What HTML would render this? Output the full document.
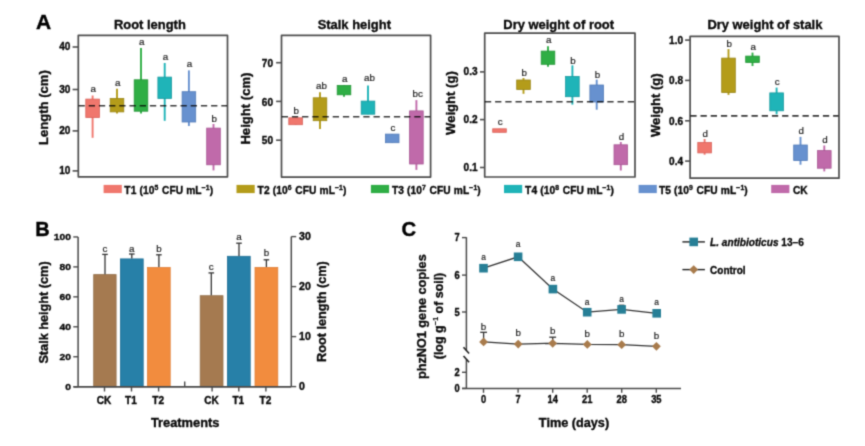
<!DOCTYPE html>
<html><head><meta charset="utf-8"><style>
html,body{margin:0;padding:0;background:#fff;}
svg{display:block;font-family:"Liberation Sans", sans-serif;}
</style></head><body>
<svg width="865" height="446" viewBox="0 0 865 446">
<defs><filter id="bl" x="0" y="0" width="865" height="446" filterUnits="userSpaceOnUse" color-interpolation-filters="sRGB"><feConvolveMatrix order="3" kernelMatrix="1 4 1 4 16 4 1 4 1" divisor="36" edgeMode="none" preserveAlpha="false"/></filter></defs>
<rect x="0" y="0" width="865" height="446" fill="#fff"/>
<g filter="url(#bl)">
<text x="36.1" y="29.3" font-size="21" font-weight="bold" fill="#000" stroke="#000" stroke-width="0.4">A</text>
<rect x="78.3" y="35.3" width="149.2" height="141.5" fill="none" stroke="#4e4e4e" stroke-width="1.7" stroke-linejoin="round"/>
<text x="149.9" y="29.0" font-size="12.95" font-weight="bold" text-anchor="middle" fill="#0a0a0a"  stroke="#0a0a0a" stroke-width="0.35">Root length</text>
<text transform="translate(47.5,107.6) rotate(-90)" font-size="13.1" font-weight="bold" text-anchor="middle" fill="#0a0a0a" stroke="#0a0a0a" stroke-width="0.35">Length (cm)</text>
<line x1="72.6" y1="47.0" x2="78.3" y2="47.0" stroke="#4e4e4e" stroke-width="1.6" />
<text transform="translate(70.4,50.3) scale(1.03,1.06)" font-size="9.8" font-weight="bold" text-anchor="end" fill="#0a0a0a"  stroke="#0a0a0a" stroke-width="0.35">40</text>
<line x1="72.6" y1="89.5" x2="78.3" y2="89.5" stroke="#4e4e4e" stroke-width="1.6" />
<text transform="translate(70.4,92.8) scale(1.03,1.06)" font-size="9.8" font-weight="bold" text-anchor="end" fill="#0a0a0a"  stroke="#0a0a0a" stroke-width="0.35">30</text>
<line x1="72.6" y1="130.9" x2="78.3" y2="130.9" stroke="#4e4e4e" stroke-width="1.6" />
<text transform="translate(70.4,134.20000000000002) scale(1.03,1.06)" font-size="9.8" font-weight="bold" text-anchor="end" fill="#0a0a0a"  stroke="#0a0a0a" stroke-width="0.35">20</text>
<line x1="72.6" y1="170.9" x2="78.3" y2="170.9" stroke="#4e4e4e" stroke-width="1.6" />
<text transform="translate(70.4,174.20000000000002) scale(1.03,1.06)" font-size="9.8" font-weight="bold" text-anchor="end" fill="#0a0a0a"  stroke="#0a0a0a" stroke-width="0.35">10</text>
<line x1="92.6" y1="95.5" x2="92.6" y2="137.8" stroke="#f0776d" stroke-width="1.9" />
<rect x="85.8" y="99.1" width="13.6" height="18.400000000000006" fill="#f0776d" stroke="#d9625a" stroke-width="0.8" />
<text x="93.3" y="92.19999999999999" font-size="9.8" font-weight="normal" text-anchor="middle" fill="#1e1e1e"  stroke="#1e1e1e" stroke-width="0.2">a</text>
<line x1="117.0" y1="88.8" x2="117.0" y2="113.4" stroke="#b49c1a" stroke-width="1.9" />
<rect x="110.2" y="98.4" width="13.6" height="13.5" fill="#b49c1a" stroke="#9a8514" stroke-width="0.8" />
<text x="117.7" y="86.1" font-size="9.8" font-weight="normal" text-anchor="middle" fill="#1e1e1e"  stroke="#1e1e1e" stroke-width="0.2">a</text>
<line x1="141.0" y1="47.9" x2="141.0" y2="113.4" stroke="#2fae45" stroke-width="1.9" />
<rect x="134.2" y="79.8" width="13.6" height="31.400000000000006" fill="#2fae45" stroke="#239436" stroke-width="0.8" />
<text x="141.7" y="44.6" font-size="9.8" font-weight="normal" text-anchor="middle" fill="#1e1e1e"  stroke="#1e1e1e" stroke-width="0.2">a</text>
<line x1="164.7" y1="63.0" x2="164.7" y2="120.8" stroke="#1fb4b8" stroke-width="1.9" />
<rect x="157.89999999999998" y="77.1" width="13.6" height="21.30000000000001" fill="#1fb4b8" stroke="#189a9e" stroke-width="0.8" />
<text x="165.39999999999998" y="59.800000000000004" font-size="9.8" font-weight="normal" text-anchor="middle" fill="#1e1e1e"  stroke="#1e1e1e" stroke-width="0.2">a</text>
<line x1="188.9" y1="70.4" x2="188.9" y2="126.0" stroke="#6791cf" stroke-width="1.9" />
<rect x="182.1" y="91.7" width="13.6" height="30.299999999999997" fill="#6791cf" stroke="#537cb8" stroke-width="0.8" />
<text x="189.6" y="67.19999999999999" font-size="9.8" font-weight="normal" text-anchor="middle" fill="#1e1e1e"  stroke="#1e1e1e" stroke-width="0.2">a</text>
<line x1="213.5" y1="124.0" x2="213.5" y2="170.4" stroke="#c06aaa" stroke-width="1.9" />
<rect x="206.7" y="128.1" width="13.6" height="36.70000000000002" fill="#c06aaa" stroke="#a85894" stroke-width="0.8" />
<text x="214.2" y="122.1" font-size="9.8" font-weight="normal" text-anchor="middle" fill="#1e1e1e"  stroke="#1e1e1e" stroke-width="0.2">b</text>
<line x1="78.3" y1="105.8" x2="227.0" y2="105.8" stroke="#3a3a3a" stroke-width="1.6" stroke-dasharray="6.3 3.9" stroke-dashoffset="-0.2" style="mix-blend-mode:multiply"/>
<rect x="281.5" y="35.3" width="149.10000000000002" height="141.8" fill="none" stroke="#4e4e4e" stroke-width="1.7" stroke-linejoin="round"/>
<text x="354.3" y="29.0" font-size="12.95" font-weight="bold" text-anchor="middle" fill="#0a0a0a"  stroke="#0a0a0a" stroke-width="0.35">Stalk height</text>
<text transform="translate(249.7,108.6) rotate(-90)" font-size="13.1" font-weight="bold" text-anchor="middle" fill="#0a0a0a" stroke="#0a0a0a" stroke-width="0.35">Height (cm)</text>
<line x1="276.1" y1="62.7" x2="281.5" y2="62.7" stroke="#4e4e4e" stroke-width="1.6" />
<text transform="translate(273.09999999999997,66.8) scale(1.03,1.06)" font-size="9.8" font-weight="bold" text-anchor="end" fill="#0a0a0a"  stroke="#0a0a0a" stroke-width="0.35">70</text>
<line x1="276.1" y1="101.4" x2="281.5" y2="101.4" stroke="#4e4e4e" stroke-width="1.6" />
<text transform="translate(273.09999999999997,105.5) scale(1.03,1.06)" font-size="9.8" font-weight="bold" text-anchor="end" fill="#0a0a0a"  stroke="#0a0a0a" stroke-width="0.35">60</text>
<line x1="276.1" y1="140.2" x2="281.5" y2="140.2" stroke="#4e4e4e" stroke-width="1.6" />
<text transform="translate(273.09999999999997,144.3) scale(1.03,1.06)" font-size="9.8" font-weight="bold" text-anchor="end" fill="#0a0a0a"  stroke="#0a0a0a" stroke-width="0.35">50</text>
<line x1="295.6" y1="117.3" x2="295.6" y2="124.9" stroke="#f0776d" stroke-width="1.9" />
<rect x="288.8" y="117.8" width="13.6" height="6.900000000000006" fill="#f0776d" stroke="#d9625a" stroke-width="0.8" />
<text x="296.3" y="113.6" font-size="9.8" font-weight="normal" text-anchor="middle" fill="#1e1e1e"  stroke="#1e1e1e" stroke-width="0.2">b</text>
<line x1="320.0" y1="92.3" x2="320.0" y2="129.0" stroke="#b49c1a" stroke-width="1.9" />
<rect x="313.2" y="97.8" width="13.6" height="22.900000000000006" fill="#b49c1a" stroke="#9a8514" stroke-width="0.8" />
<text x="321.4" y="88.6" font-size="9.8" font-weight="normal" text-anchor="middle" fill="#1e1e1e"  stroke="#1e1e1e" stroke-width="0.2">ab</text>
<line x1="344.0" y1="85.4" x2="344.0" y2="96.8" stroke="#2fae45" stroke-width="1.9" />
<rect x="337.2" y="85.4" width="13.6" height="9.399999999999991" fill="#2fae45" stroke="#239436" stroke-width="0.8" />
<text x="344.7" y="82.0" font-size="9.8" font-weight="normal" text-anchor="middle" fill="#1e1e1e"  stroke="#1e1e1e" stroke-width="0.2">a</text>
<line x1="368.0" y1="85.4" x2="368.0" y2="114.2" stroke="#1fb4b8" stroke-width="1.9" />
<rect x="361.2" y="101.1" width="13.6" height="13.100000000000009" fill="#1fb4b8" stroke="#189a9e" stroke-width="0.8" />
<text x="369.4" y="81.39999999999999" font-size="9.8" font-weight="normal" text-anchor="middle" fill="#1e1e1e"  stroke="#1e1e1e" stroke-width="0.2">ab</text>
<line x1="392.2" y1="134.1" x2="392.2" y2="142.7" stroke="#6791cf" stroke-width="1.9" />
<rect x="385.4" y="134.1" width="13.6" height="8.599999999999994" fill="#6791cf" stroke="#537cb8" stroke-width="0.8" />
<text x="392.9" y="130.9" font-size="9.8" font-weight="normal" text-anchor="middle" fill="#1e1e1e"  stroke="#1e1e1e" stroke-width="0.2">c</text>
<line x1="416.4" y1="100.1" x2="416.4" y2="169.9" stroke="#c06aaa" stroke-width="1.9" />
<rect x="409.59999999999997" y="110.9" width="13.6" height="53.099999999999994" fill="#c06aaa" stroke="#a85894" stroke-width="0.8" />
<text x="417.79999999999995" y="97.19999999999999" font-size="9.8" font-weight="normal" text-anchor="middle" fill="#1e1e1e"  stroke="#1e1e1e" stroke-width="0.2">bc</text>
<line x1="281.5" y1="116.8" x2="430.1" y2="116.8" stroke="#3a3a3a" stroke-width="1.6" stroke-dasharray="6.3 3.9" stroke-dashoffset="-0.2" style="mix-blend-mode:multiply"/>
<rect x="484.7" y="33.1" width="150.3" height="143.9" fill="none" stroke="#4e4e4e" stroke-width="1.7" stroke-linejoin="round"/>
<text x="558.7" y="29.0" font-size="12.95" font-weight="bold" text-anchor="middle" fill="#0a0a0a"  stroke="#0a0a0a" stroke-width="0.35">Dry weight of root</text>
<text transform="translate(454.6,103.1) rotate(-90)" font-size="13.1" font-weight="bold" text-anchor="middle" fill="#0a0a0a" stroke="#0a0a0a" stroke-width="0.35">Weight (g)</text>
<line x1="480.0" y1="71.9" x2="484.7" y2="71.9" stroke="#4e4e4e" stroke-width="1.6" />
<text transform="translate(477.59999999999997,75.2) scale(1.03,1.06)" font-size="9.8" font-weight="bold" text-anchor="end" fill="#0a0a0a"  stroke="#0a0a0a" stroke-width="0.35">0.3</text>
<line x1="480.0" y1="119.6" x2="484.7" y2="119.6" stroke="#4e4e4e" stroke-width="1.6" />
<text transform="translate(477.59999999999997,122.89999999999999) scale(1.03,1.06)" font-size="9.8" font-weight="bold" text-anchor="end" fill="#0a0a0a"  stroke="#0a0a0a" stroke-width="0.35">0.2</text>
<line x1="480.0" y1="167.5" x2="484.7" y2="167.5" stroke="#4e4e4e" stroke-width="1.6" />
<text transform="translate(477.59999999999997,170.8) scale(1.03,1.06)" font-size="9.8" font-weight="bold" text-anchor="end" fill="#0a0a0a"  stroke="#0a0a0a" stroke-width="0.35">0.1</text>
<line x1="499.5" y1="128.8" x2="499.5" y2="132.3" stroke="#f0776d" stroke-width="1.9" />
<rect x="492.7" y="128.8" width="13.6" height="3.5" fill="#f0776d" stroke="#d9625a" stroke-width="0.8" />
<text x="500.2" y="124.6" font-size="9.8" font-weight="normal" text-anchor="middle" fill="#1e1e1e"  stroke="#1e1e1e" stroke-width="0.2">c</text>
<line x1="523.5" y1="78.0" x2="523.5" y2="93.8" stroke="#b49c1a" stroke-width="1.9" />
<rect x="516.7" y="80.0" width="13.6" height="9.5" fill="#b49c1a" stroke="#9a8514" stroke-width="0.8" />
<text x="524.2" y="76.0" font-size="9.8" font-weight="normal" text-anchor="middle" fill="#1e1e1e"  stroke="#1e1e1e" stroke-width="0.2">b</text>
<line x1="548.0" y1="46.2" x2="548.0" y2="66.7" stroke="#2fae45" stroke-width="1.9" />
<rect x="541.2" y="51.1" width="13.6" height="13.199999999999996" fill="#2fae45" stroke="#239436" stroke-width="0.8" />
<text x="548.7" y="43.2" font-size="9.8" font-weight="normal" text-anchor="middle" fill="#1e1e1e"  stroke="#1e1e1e" stroke-width="0.2">a</text>
<line x1="572.4" y1="65.3" x2="572.4" y2="104.6" stroke="#1fb4b8" stroke-width="1.9" />
<rect x="565.6" y="76.5" width="13.6" height="20.200000000000003" fill="#1fb4b8" stroke="#189a9e" stroke-width="0.8" />
<text x="573.1" y="63.6" font-size="9.8" font-weight="normal" text-anchor="middle" fill="#1e1e1e"  stroke="#1e1e1e" stroke-width="0.2">b</text>
<line x1="596.7" y1="79.6" x2="596.7" y2="109.7" stroke="#6791cf" stroke-width="1.9" />
<rect x="589.9000000000001" y="85.0" width="13.6" height="17.0" fill="#6791cf" stroke="#537cb8" stroke-width="0.8" />
<text x="597.4000000000001" y="77.5" font-size="9.8" font-weight="normal" text-anchor="middle" fill="#1e1e1e"  stroke="#1e1e1e" stroke-width="0.2">b</text>
<line x1="620.8" y1="142.0" x2="620.8" y2="170.5" stroke="#c06aaa" stroke-width="1.9" />
<rect x="614.0" y="144.8" width="13.6" height="19.899999999999977" fill="#c06aaa" stroke="#a85894" stroke-width="0.8" />
<text x="621.5" y="140.0" font-size="9.8" font-weight="normal" text-anchor="middle" fill="#1e1e1e"  stroke="#1e1e1e" stroke-width="0.2">d</text>
<line x1="484.7" y1="101.7" x2="634.5" y2="101.7" stroke="#3a3a3a" stroke-width="1.6" stroke-dasharray="6.3 3.9" stroke-dashoffset="-0.2" style="mix-blend-mode:multiply"/>
<rect x="690.1" y="36.4" width="148.89999999999998" height="141.79999999999998" fill="none" stroke="#4e4e4e" stroke-width="1.7" stroke-linejoin="round"/>
<text x="764.9" y="29.0" font-size="12.95" font-weight="bold" text-anchor="middle" fill="#0a0a0a"  stroke="#0a0a0a" stroke-width="0.35">Dry weight of stalk</text>
<text transform="translate(659.7,105.2) rotate(-90)" font-size="13.1" font-weight="bold" text-anchor="middle" fill="#0a0a0a" stroke="#0a0a0a" stroke-width="0.35">Weight (g)</text>
<line x1="685.1" y1="40.1" x2="690.1" y2="40.1" stroke="#4e4e4e" stroke-width="1.6" />
<text transform="translate(683.1,44.1) scale(1.03,1.06)" font-size="9.8" font-weight="bold" text-anchor="end" fill="#0a0a0a"  stroke="#0a0a0a" stroke-width="0.35">1.0</text>
<line x1="685.1" y1="80.4" x2="690.1" y2="80.4" stroke="#4e4e4e" stroke-width="1.6" />
<text transform="translate(683.1,84.4) scale(1.03,1.06)" font-size="9.8" font-weight="bold" text-anchor="end" fill="#0a0a0a"  stroke="#0a0a0a" stroke-width="0.35">0.8</text>
<line x1="685.1" y1="120.8" x2="690.1" y2="120.8" stroke="#4e4e4e" stroke-width="1.6" />
<text transform="translate(683.1,124.8) scale(1.03,1.06)" font-size="9.8" font-weight="bold" text-anchor="end" fill="#0a0a0a"  stroke="#0a0a0a" stroke-width="0.35">0.6</text>
<line x1="685.1" y1="161.1" x2="690.1" y2="161.1" stroke="#4e4e4e" stroke-width="1.6" />
<text transform="translate(683.1,165.1) scale(1.03,1.06)" font-size="9.8" font-weight="bold" text-anchor="end" fill="#0a0a0a"  stroke="#0a0a0a" stroke-width="0.35">0.4</text>
<line x1="704.6" y1="139.0" x2="704.6" y2="154.7" stroke="#f0776d" stroke-width="1.9" />
<rect x="697.8000000000001" y="142.5" width="13.6" height="10.400000000000006" fill="#f0776d" stroke="#d9625a" stroke-width="0.8" />
<text x="705.3000000000001" y="137.0" font-size="9.8" font-weight="normal" text-anchor="middle" fill="#1e1e1e"  stroke="#1e1e1e" stroke-width="0.2">d</text>
<line x1="728.5" y1="49.1" x2="728.5" y2="94.9" stroke="#b49c1a" stroke-width="1.9" />
<rect x="721.7" y="58.1" width="13.6" height="34.4" fill="#b49c1a" stroke="#9a8514" stroke-width="0.8" />
<text x="729.2" y="47.2" font-size="9.8" font-weight="normal" text-anchor="middle" fill="#1e1e1e"  stroke="#1e1e1e" stroke-width="0.2">b</text>
<line x1="752.5" y1="52.6" x2="752.5" y2="66.0" stroke="#2fae45" stroke-width="1.9" />
<rect x="745.7" y="56.1" width="13.6" height="6.299999999999997" fill="#2fae45" stroke="#239436" stroke-width="0.8" />
<text x="753.2" y="50.2" font-size="9.8" font-weight="normal" text-anchor="middle" fill="#1e1e1e"  stroke="#1e1e1e" stroke-width="0.2">a</text>
<line x1="776.6" y1="87.6" x2="776.6" y2="114.3" stroke="#1fb4b8" stroke-width="1.9" />
<rect x="769.8000000000001" y="92.9" width="13.6" height="17.89999999999999" fill="#1fb4b8" stroke="#189a9e" stroke-width="0.8" />
<text x="777.3000000000001" y="85.0" font-size="9.8" font-weight="normal" text-anchor="middle" fill="#1e1e1e"  stroke="#1e1e1e" stroke-width="0.2">c</text>
<line x1="800.5" y1="136.9" x2="800.5" y2="164.7" stroke="#6791cf" stroke-width="1.9" />
<rect x="793.7" y="145.0" width="13.6" height="15.5" fill="#6791cf" stroke="#537cb8" stroke-width="0.8" />
<text x="801.2" y="134.29999999999998" font-size="9.8" font-weight="normal" text-anchor="middle" fill="#1e1e1e"  stroke="#1e1e1e" stroke-width="0.2">d</text>
<line x1="824.3" y1="145.5" x2="824.3" y2="171.4" stroke="#c06aaa" stroke-width="1.9" />
<rect x="817.5" y="150.6" width="13.6" height="17.599999999999994" fill="#c06aaa" stroke="#a85894" stroke-width="0.8" />
<text x="825.0" y="142.79999999999998" font-size="9.8" font-weight="normal" text-anchor="middle" fill="#1e1e1e"  stroke="#1e1e1e" stroke-width="0.2">d</text>
<line x1="690.1" y1="115.9" x2="838.5" y2="115.9" stroke="#3a3a3a" stroke-width="1.6" stroke-dasharray="6.3 3.9" stroke-dashoffset="-0.2" style="mix-blend-mode:multiply"/>
<rect x="103.6" y="184.9" width="18.2" height="8.2" fill="#f0776d" stroke="none" stroke-width="0" />
<text x="124.3" y="193.5" font-size="10.2" letter-spacing="0.12" font-weight="bold" fill="#0a0a0a" stroke="#0a0a0a" stroke-width="0.35">T1 (10<tspan font-size="6.8" dy="-4.0">5</tspan><tspan dy="4.0" dx="0.6"> CFU mL</tspan><tspan font-size="6.8" dy="-4.0">&#8722;1</tspan><tspan dy="4.0">)</tspan></text>
<rect x="236.5" y="184.9" width="18.2" height="8.2" fill="#b49c1a" stroke="none" stroke-width="0" />
<text x="257.6" y="193.5" font-size="10.2" letter-spacing="0.12" font-weight="bold" fill="#0a0a0a" stroke="#0a0a0a" stroke-width="0.35">T2 (10<tspan font-size="6.8" dy="-4.0">6</tspan><tspan dy="4.0" dx="0.6"> CFU mL</tspan><tspan font-size="6.8" dy="-4.0">&#8722;1</tspan><tspan dy="4.0">)</tspan></text>
<rect x="370.9" y="184.9" width="18.2" height="8.2" fill="#2fae45" stroke="none" stroke-width="0" />
<text x="391.9" y="193.5" font-size="10.2" letter-spacing="0.12" font-weight="bold" fill="#0a0a0a" stroke="#0a0a0a" stroke-width="0.35">T3 (10<tspan font-size="6.8" dy="-4.0">7</tspan><tspan dy="4.0" dx="0.6"> CFU mL</tspan><tspan font-size="6.8" dy="-4.0">&#8722;1</tspan><tspan dy="4.0">)</tspan></text>
<rect x="504.0" y="184.9" width="18.2" height="8.2" fill="#1fb4b8" stroke="none" stroke-width="0" />
<text x="525.1" y="193.5" font-size="10.2" letter-spacing="0.12" font-weight="bold" fill="#0a0a0a" stroke="#0a0a0a" stroke-width="0.35">T4 (10<tspan font-size="6.8" dy="-4.0">8</tspan><tspan dy="4.0" dx="0.6"> CFU mL</tspan><tspan font-size="6.8" dy="-4.0">&#8722;1</tspan><tspan dy="4.0">)</tspan></text>
<rect x="638.6" y="184.9" width="18.2" height="8.2" fill="#6791cf" stroke="none" stroke-width="0" />
<text x="658.9" y="193.5" font-size="10.2" letter-spacing="0.12" font-weight="bold" fill="#0a0a0a" stroke="#0a0a0a" stroke-width="0.35">T5 (10<tspan font-size="6.8" dy="-4.0">9</tspan><tspan dy="4.0" dx="0.6"> CFU mL</tspan><tspan font-size="6.8" dy="-4.0">&#8722;1</tspan><tspan dy="4.0">)</tspan></text>
<rect x="771.2" y="184.9" width="18.2" height="8.2" fill="#c06aaa" stroke="none" stroke-width="0" />
<text x="793.0" y="193.5" font-size="10.2" font-weight="bold" text-anchor="start" fill="#0a0a0a"  stroke="#0a0a0a" stroke-width="0.35">CK</text>
<text x="35.2" y="235.5" font-size="20" font-weight="bold" fill="#000" stroke="#000" stroke-width="0.4">B</text>
<rect x="93.7" y="274.59999999999997" width="22.400000000000002" height="112.1" fill="#a57a50" stroke="#94704a" stroke-width="0.8" />
<rect x="120.4" y="258.9" width="22.799999999999994" height="127.79999999999998" fill="#2780a8" stroke="#1f6f96" stroke-width="0.8" />
<rect x="147.5" y="267.5" width="22.7" height="119.19999999999996" fill="#f28c3e" stroke="#e07f38" stroke-width="0.8" />
<rect x="200.20000000000002" y="295.7" width="22.799999999999994" height="90.99999999999997" fill="#a57a50" stroke="#94704a" stroke-width="0.8" />
<rect x="227.4" y="256.3" width="22.799999999999994" height="130.39999999999998" fill="#2780a8" stroke="#1f6f96" stroke-width="0.8" />
<rect x="255.0" y="267.4" width="22.799999999999994" height="119.29999999999998" fill="#f28c3e" stroke="#e07f38" stroke-width="0.8" />
<line x1="105.0" y1="254.4" x2="105.0" y2="274.2" stroke="#333" stroke-width="1.3" />
<line x1="102.2" y1="254.4" x2="107.8" y2="254.4" stroke="#333" stroke-width="1.3" />
<line x1="131.8" y1="254.0" x2="131.8" y2="258.5" stroke="#333" stroke-width="1.3" />
<line x1="129.0" y1="254.0" x2="134.60000000000002" y2="254.0" stroke="#333" stroke-width="1.3" />
<line x1="158.9" y1="254.8" x2="158.9" y2="267.1" stroke="#333" stroke-width="1.3" />
<line x1="156.1" y1="254.8" x2="161.70000000000002" y2="254.8" stroke="#333" stroke-width="1.3" />
<line x1="211.3" y1="272.9" x2="211.3" y2="295.3" stroke="#333" stroke-width="1.3" />
<line x1="208.5" y1="272.9" x2="214.10000000000002" y2="272.9" stroke="#333" stroke-width="1.3" />
<line x1="239.0" y1="243.2" x2="239.0" y2="255.9" stroke="#333" stroke-width="1.3" />
<line x1="236.2" y1="243.2" x2="241.8" y2="243.2" stroke="#333" stroke-width="1.3" />
<line x1="266.4" y1="259.8" x2="266.4" y2="267.0" stroke="#333" stroke-width="1.3" />
<line x1="263.59999999999997" y1="259.8" x2="269.2" y2="259.8" stroke="#333" stroke-width="1.3" />
<text x="105.0" y="251.6" font-size="9.8" font-weight="normal" text-anchor="middle" fill="#1e1e1e"  stroke="#1e1e1e" stroke-width="0.2">c</text>
<text x="131.8" y="251.6" font-size="9.8" font-weight="normal" text-anchor="middle" fill="#1e1e1e"  stroke="#1e1e1e" stroke-width="0.2">a</text>
<text x="158.9" y="251.6" font-size="9.8" font-weight="normal" text-anchor="middle" fill="#1e1e1e"  stroke="#1e1e1e" stroke-width="0.2">b</text>
<text x="211.3" y="270.0" font-size="9.8" font-weight="normal" text-anchor="middle" fill="#1e1e1e"  stroke="#1e1e1e" stroke-width="0.2">c</text>
<text x="239.0" y="240.4" font-size="9.8" font-weight="normal" text-anchor="middle" fill="#1e1e1e"  stroke="#1e1e1e" stroke-width="0.2">a</text>
<text x="266.4" y="255.5" font-size="9.8" font-weight="normal" text-anchor="middle" fill="#1e1e1e"  stroke="#1e1e1e" stroke-width="0.2">b</text>
<line x1="78.1" y1="236.9" x2="78.1" y2="386.7" stroke="#4a4a4a" stroke-width="1.5" />
<line x1="73.3" y1="236.95" x2="78.1" y2="236.95" stroke="#4a4a4a" stroke-width="1.4" />
<text transform="translate(71.0,240.45) scale(1.05,1.0)" font-size="9.8" font-weight="bold" text-anchor="end" fill="#0a0a0a"  stroke="#0a0a0a" stroke-width="0.35">100</text>
<line x1="73.3" y1="266.9" x2="78.1" y2="266.9" stroke="#4a4a4a" stroke-width="1.4" />
<text transform="translate(71.0,270.4) scale(1.05,1.0)" font-size="9.8" font-weight="bold" text-anchor="end" fill="#0a0a0a"  stroke="#0a0a0a" stroke-width="0.35">80</text>
<line x1="73.3" y1="296.84999999999997" x2="78.1" y2="296.84999999999997" stroke="#4a4a4a" stroke-width="1.4" />
<text transform="translate(71.0,300.34999999999997) scale(1.05,1.0)" font-size="9.8" font-weight="bold" text-anchor="end" fill="#0a0a0a"  stroke="#0a0a0a" stroke-width="0.35">60</text>
<line x1="73.3" y1="326.79999999999995" x2="78.1" y2="326.79999999999995" stroke="#4a4a4a" stroke-width="1.4" />
<text transform="translate(71.0,330.29999999999995) scale(1.05,1.0)" font-size="9.8" font-weight="bold" text-anchor="end" fill="#0a0a0a"  stroke="#0a0a0a" stroke-width="0.35">40</text>
<line x1="73.3" y1="356.75" x2="78.1" y2="356.75" stroke="#4a4a4a" stroke-width="1.4" />
<text transform="translate(71.0,360.25) scale(1.05,1.0)" font-size="9.8" font-weight="bold" text-anchor="end" fill="#0a0a0a"  stroke="#0a0a0a" stroke-width="0.35">20</text>
<line x1="73.3" y1="386.7" x2="78.1" y2="386.7" stroke="#4a4a4a" stroke-width="1.4" />
<text transform="translate(71.0,390.2) scale(1.05,1.0)" font-size="9.8" font-weight="bold" text-anchor="end" fill="#0a0a0a"  stroke="#0a0a0a" stroke-width="0.35">0</text>
<line x1="291.3" y1="236.6" x2="291.3" y2="386.7" stroke="#4a4a4a" stroke-width="1.5" />
<line x1="291.3" y1="236.60000000000002" x2="296.2" y2="236.60000000000002" stroke="#4a4a4a" stroke-width="1.4" />
<text transform="translate(299.0,240.20000000000002) scale(1.08,1.04)" font-size="9.8" font-weight="bold" text-anchor="start" fill="#0a0a0a"  stroke="#0a0a0a" stroke-width="0.35">30</text>
<line x1="291.3" y1="286.6" x2="296.2" y2="286.6" stroke="#4a4a4a" stroke-width="1.4" />
<text transform="translate(299.0,290.20000000000005) scale(1.08,1.04)" font-size="9.8" font-weight="bold" text-anchor="start" fill="#0a0a0a"  stroke="#0a0a0a" stroke-width="0.35">20</text>
<line x1="291.3" y1="336.6" x2="296.2" y2="336.6" stroke="#4a4a4a" stroke-width="1.4" />
<text transform="translate(299.0,340.20000000000005) scale(1.08,1.04)" font-size="9.8" font-weight="bold" text-anchor="start" fill="#0a0a0a"  stroke="#0a0a0a" stroke-width="0.35">10</text>
<line x1="291.3" y1="386.6" x2="296.2" y2="386.6" stroke="#4a4a4a" stroke-width="1.4" />
<text transform="translate(299.0,390.20000000000005) scale(1.08,1.04)" font-size="9.8" font-weight="bold" text-anchor="start" fill="#0a0a0a"  stroke="#0a0a0a" stroke-width="0.35">0</text>
<line x1="73.5" y1="386.9" x2="291.3" y2="386.9" stroke="#4a4a4a" stroke-width="1.6" />
<line x1="104.5" y1="386.9" x2="104.5" y2="391.5" stroke="#4a4a4a" stroke-width="1.4" />
<line x1="131.5" y1="386.9" x2="131.5" y2="391.5" stroke="#4a4a4a" stroke-width="1.4" />
<line x1="158.6" y1="386.9" x2="158.6" y2="391.5" stroke="#4a4a4a" stroke-width="1.4" />
<line x1="212.1" y1="386.9" x2="212.1" y2="391.5" stroke="#4a4a4a" stroke-width="1.4" />
<line x1="238.8" y1="386.9" x2="238.8" y2="391.5" stroke="#4a4a4a" stroke-width="1.4" />
<line x1="265.9" y1="386.9" x2="265.9" y2="391.5" stroke="#4a4a4a" stroke-width="1.4" />
<line x1="184.7" y1="381.6" x2="184.7" y2="386.9" stroke="#4a4a4a" stroke-width="1.4" />
<text transform="translate(104.0,403.5) scale(1.03,1.15)" font-size="9.8" font-weight="bold" text-anchor="middle" fill="#0a0a0a"  stroke="#0a0a0a" stroke-width="0.35">CK</text>
<text transform="translate(131.0,403.5) scale(1.03,1.15)" font-size="9.8" font-weight="bold" text-anchor="middle" fill="#0a0a0a"  stroke="#0a0a0a" stroke-width="0.35">T1</text>
<text transform="translate(158.1,403.5) scale(1.03,1.15)" font-size="9.8" font-weight="bold" text-anchor="middle" fill="#0a0a0a"  stroke="#0a0a0a" stroke-width="0.35">T2</text>
<text transform="translate(211.6,403.5) scale(1.03,1.15)" font-size="9.8" font-weight="bold" text-anchor="middle" fill="#0a0a0a"  stroke="#0a0a0a" stroke-width="0.35">CK</text>
<text transform="translate(238.3,403.5) scale(1.03,1.15)" font-size="9.8" font-weight="bold" text-anchor="middle" fill="#0a0a0a"  stroke="#0a0a0a" stroke-width="0.35">T1</text>
<text transform="translate(265.4,403.5) scale(1.03,1.15)" font-size="9.8" font-weight="bold" text-anchor="middle" fill="#0a0a0a"  stroke="#0a0a0a" stroke-width="0.35">T2</text>
<text x="185.2" y="426.7" font-size="12.85" font-weight="bold" text-anchor="middle" fill="#0a0a0a"  stroke="#0a0a0a" stroke-width="0.35">Treatments</text>
<text transform="translate(48.4,312.5) rotate(-90)" font-size="12.7" font-weight="bold" text-anchor="middle" fill="#0a0a0a" stroke="#0a0a0a" stroke-width="0.35">Stalk height (cm)</text>
<text transform="translate(326.1,311.6) rotate(-90)" font-size="12.7" font-weight="bold" text-anchor="middle" fill="#0a0a0a" stroke="#0a0a0a" stroke-width="0.35">Root length (cm)</text>
<text x="401.5" y="235.6" font-size="20.3" font-weight="bold" fill="#000" stroke="#000" stroke-width="0.4">C</text>
<line x1="466.4" y1="237.2" x2="466.4" y2="350.5" stroke="#4a4a4a" stroke-width="1.5" />
<line x1="466.4" y1="359.5" x2="466.4" y2="388.4" stroke="#4a4a4a" stroke-width="1.5" />
<line x1="463.5" y1="347.2" x2="469.1" y2="353.5" stroke="#222" stroke-width="1.6" />
<line x1="463.5" y1="356.0" x2="469.1" y2="362.3" stroke="#222" stroke-width="1.6" />
<line x1="462.0" y1="237.6" x2="466.4" y2="237.6" stroke="#4a4a4a" stroke-width="1.4" />
<text transform="translate(459.8,241.1) scale(0.95,1.1)" font-size="9.8" font-weight="bold" text-anchor="end" fill="#0a0a0a"  stroke="#0a0a0a" stroke-width="0.35">7</text>
<line x1="462.0" y1="275.1" x2="466.4" y2="275.1" stroke="#4a4a4a" stroke-width="1.4" />
<text transform="translate(459.8,278.6) scale(0.95,1.1)" font-size="9.8" font-weight="bold" text-anchor="end" fill="#0a0a0a"  stroke="#0a0a0a" stroke-width="0.35">6</text>
<line x1="462.0" y1="312.0" x2="466.4" y2="312.0" stroke="#4a4a4a" stroke-width="1.4" />
<text transform="translate(459.8,315.5) scale(0.95,1.1)" font-size="9.8" font-weight="bold" text-anchor="end" fill="#0a0a0a"  stroke="#0a0a0a" stroke-width="0.35">5</text>
<line x1="462.0" y1="372.3" x2="466.4" y2="372.3" stroke="#4a4a4a" stroke-width="1.4" />
<text transform="translate(459.8,375.8) scale(0.95,1.1)" font-size="9.8" font-weight="bold" text-anchor="end" fill="#0a0a0a"  stroke="#0a0a0a" stroke-width="0.35">2</text>
<line x1="462.0" y1="388.4" x2="466.4" y2="388.4" stroke="#4a4a4a" stroke-width="1.4" />
<text transform="translate(459.8,391.9) scale(0.95,1.1)" font-size="9.8" font-weight="bold" text-anchor="end" fill="#0a0a0a"  stroke="#0a0a0a" stroke-width="0.35">0</text>
<line x1="462.0" y1="388.4" x2="681.0" y2="388.4" stroke="#4a4a4a" stroke-width="1.5" />
<line x1="483.5" y1="388.4" x2="483.5" y2="392.8" stroke="#4a4a4a" stroke-width="1.4" />
<text transform="translate(483.5,403.3) scale(0.95,1.1)" font-size="9.8" font-weight="bold" text-anchor="middle" fill="#0a0a0a"  stroke="#0a0a0a" stroke-width="0.35">0</text>
<line x1="518.1" y1="388.4" x2="518.1" y2="392.8" stroke="#4a4a4a" stroke-width="1.4" />
<text transform="translate(518.1,403.3) scale(0.95,1.1)" font-size="9.8" font-weight="bold" text-anchor="middle" fill="#0a0a0a"  stroke="#0a0a0a" stroke-width="0.35">7</text>
<line x1="552.7" y1="388.4" x2="552.7" y2="392.8" stroke="#4a4a4a" stroke-width="1.4" />
<text transform="translate(552.7,403.3) scale(0.95,1.1)" font-size="9.8" font-weight="bold" text-anchor="middle" fill="#0a0a0a"  stroke="#0a0a0a" stroke-width="0.35">14</text>
<line x1="587.2" y1="388.4" x2="587.2" y2="392.8" stroke="#4a4a4a" stroke-width="1.4" />
<text transform="translate(587.2,403.3) scale(0.95,1.1)" font-size="9.8" font-weight="bold" text-anchor="middle" fill="#0a0a0a"  stroke="#0a0a0a" stroke-width="0.35">21</text>
<line x1="621.7" y1="388.4" x2="621.7" y2="392.8" stroke="#4a4a4a" stroke-width="1.4" />
<text transform="translate(621.7,403.3) scale(0.95,1.1)" font-size="9.8" font-weight="bold" text-anchor="middle" fill="#0a0a0a"  stroke="#0a0a0a" stroke-width="0.35">28</text>
<line x1="656.3" y1="388.4" x2="656.3" y2="392.8" stroke="#4a4a4a" stroke-width="1.4" />
<text transform="translate(656.3,403.3) scale(0.95,1.1)" font-size="9.8" font-weight="bold" text-anchor="middle" fill="#0a0a0a"  stroke="#0a0a0a" stroke-width="0.35">35</text>
<text x="574" y="427" font-size="12.7" font-weight="bold" text-anchor="middle" fill="#0a0a0a"  stroke="#0a0a0a" stroke-width="0.35">Time (days)</text>
<text transform="translate(426.0,316.7) rotate(-90)" font-size="12.7" font-weight="bold" text-anchor="middle" fill="#0a0a0a" stroke="#0a0a0a" stroke-width="0.35">phzNO1 gene copies</text>
<text transform="translate(442.9,316.0) rotate(-90)" font-size="12.4" font-weight="bold" text-anchor="middle" fill="#0a0a0a" stroke="#0a0a0a" stroke-width="0.35">(log g<tspan font-size="7.6" dy="-4.8" stroke-width="0.15">&#8722;1</tspan><tspan dy="4.8"> of soil)</tspan></text>
<line x1="483.6" y1="332.3" x2="483.6" y2="341.9" stroke="#333" stroke-width="1.3" />
<line x1="480.2" y1="332.3" x2="487.0" y2="332.3" stroke="#333" stroke-width="1.3" />
<line x1="552.7" y1="337.2" x2="552.7" y2="343.3" stroke="#333" stroke-width="1.3" />
<line x1="549.3" y1="337.2" x2="556.1" y2="337.2" stroke="#333" stroke-width="1.3" />
<line x1="621.6" y1="305.3" x2="621.6" y2="309.4" stroke="#333" stroke-width="1.3" />
<line x1="618.8" y1="305.3" x2="624.4" y2="305.3" stroke="#333" stroke-width="1.3" />
<polyline points="483.5,268.2 518.1,256.8 552.9,289.1 587.2,312.2 621.6,309.4 656.7,313.3" fill="none" stroke="#333" stroke-width="1.3"/>
<polyline points="483.6,341.9 518.2,344.1 552.7,343.3 587.3,344.4 621.7,344.7 656.4,346.3" fill="none" stroke="#333" stroke-width="1.3"/>
<rect x="479.2" y="263.9" width="8.6" height="8.6" fill="#277f96" stroke="none" stroke-width="0" />
<rect x="513.8000000000001" y="252.5" width="8.6" height="8.6" fill="#277f96" stroke="none" stroke-width="0" />
<rect x="548.6" y="284.8" width="8.6" height="8.6" fill="#277f96" stroke="none" stroke-width="0" />
<rect x="582.9000000000001" y="307.9" width="8.6" height="8.6" fill="#277f96" stroke="none" stroke-width="0" />
<rect x="617.3000000000001" y="305.09999999999997" width="8.6" height="8.6" fill="#277f96" stroke="none" stroke-width="0" />
<rect x="652.4000000000001" y="309.0" width="8.6" height="8.6" fill="#277f96" stroke="none" stroke-width="0" />
<path d="M483.6 337.5 L488.0 341.9 L483.6 346.29999999999995 L479.20000000000005 341.9 Z" fill="#a87b4c"/>
<path d="M518.2 339.70000000000005 L522.6 344.1 L518.2 348.5 L513.8000000000001 344.1 Z" fill="#a87b4c"/>
<path d="M552.7 338.90000000000003 L557.1 343.3 L552.7 347.7 L548.3000000000001 343.3 Z" fill="#a87b4c"/>
<path d="M587.3 340.0 L591.6999999999999 344.4 L587.3 348.79999999999995 L582.9 344.4 Z" fill="#a87b4c"/>
<path d="M621.7 340.3 L626.1 344.7 L621.7 349.09999999999997 L617.3000000000001 344.7 Z" fill="#a87b4c"/>
<path d="M656.4 341.90000000000003 L660.8 346.3 L656.4 350.7 L652.0 346.3 Z" fill="#a87b4c"/>
<text transform="translate(483.5,259.8) scale(0.86,1)" font-size="9.8" font-weight="normal" text-anchor="middle" fill="#1e1e1e"  stroke="#1e1e1e" stroke-width="0.2">a</text>
<text transform="translate(518.1,247.1) scale(0.86,1)" font-size="9.8" font-weight="normal" text-anchor="middle" fill="#1e1e1e"  stroke="#1e1e1e" stroke-width="0.2">a</text>
<text transform="translate(552.9,280.90000000000003) scale(0.86,1)" font-size="9.8" font-weight="normal" text-anchor="middle" fill="#1e1e1e"  stroke="#1e1e1e" stroke-width="0.2">a</text>
<text transform="translate(587.2,304.6) scale(0.86,1)" font-size="9.8" font-weight="normal" text-anchor="middle" fill="#1e1e1e"  stroke="#1e1e1e" stroke-width="0.2">a</text>
<text transform="translate(621.6,302.00000000000006) scale(0.86,1)" font-size="9.8" font-weight="normal" text-anchor="middle" fill="#1e1e1e"  stroke="#1e1e1e" stroke-width="0.2">a</text>
<text transform="translate(656.7,304.6) scale(0.86,1)" font-size="9.8" font-weight="normal" text-anchor="middle" fill="#1e1e1e"  stroke="#1e1e1e" stroke-width="0.2">a</text>
<text x="483.6" y="329.50000000000006" font-size="9.8" font-weight="normal" text-anchor="middle" fill="#1e1e1e"  stroke="#1e1e1e" stroke-width="0.2">b</text>
<text x="518.2" y="335.90000000000003" font-size="9.8" font-weight="normal" text-anchor="middle" fill="#1e1e1e"  stroke="#1e1e1e" stroke-width="0.2">b</text>
<text x="552.7" y="334.00000000000006" font-size="9.8" font-weight="normal" text-anchor="middle" fill="#1e1e1e"  stroke="#1e1e1e" stroke-width="0.2">b</text>
<text x="587.3" y="336.50000000000006" font-size="9.8" font-weight="normal" text-anchor="middle" fill="#1e1e1e"  stroke="#1e1e1e" stroke-width="0.2">b</text>
<text x="621.7" y="336.50000000000006" font-size="9.8" font-weight="normal" text-anchor="middle" fill="#1e1e1e"  stroke="#1e1e1e" stroke-width="0.2">b</text>
<text x="656.4" y="338.70000000000005" font-size="9.8" font-weight="normal" text-anchor="middle" fill="#1e1e1e"  stroke="#1e1e1e" stroke-width="0.2">b</text>
<line x1="682.4" y1="241.9" x2="704.9" y2="241.9" stroke="#222" stroke-width="1.4" />
<rect x="689.4" y="237.6" width="8.6" height="8.6" fill="#277f96" stroke="none" stroke-width="0" />
<text x="710.1" y="246" font-size="10.1" font-weight="bold" fill="#0a0a0a" stroke="#0a0a0a" stroke-width="0.3"><tspan font-style="italic">L. antibioticus</tspan> 13&#8211;6</text>
<line x1="682.4" y1="269.6" x2="704.9" y2="269.6" stroke="#222" stroke-width="1.4" />
<path d="M693.7 265.2 L698.1 269.6 L693.7 274 L689.3 269.6 Z" fill="#a87b4c"/>
<text x="710.1" y="273.5" font-size="10.0" font-weight="bold" text-anchor="start" fill="#0a0a0a"  stroke="#0a0a0a" stroke-width="0.35">Control</text>
</g>
</svg>
</body></html>
